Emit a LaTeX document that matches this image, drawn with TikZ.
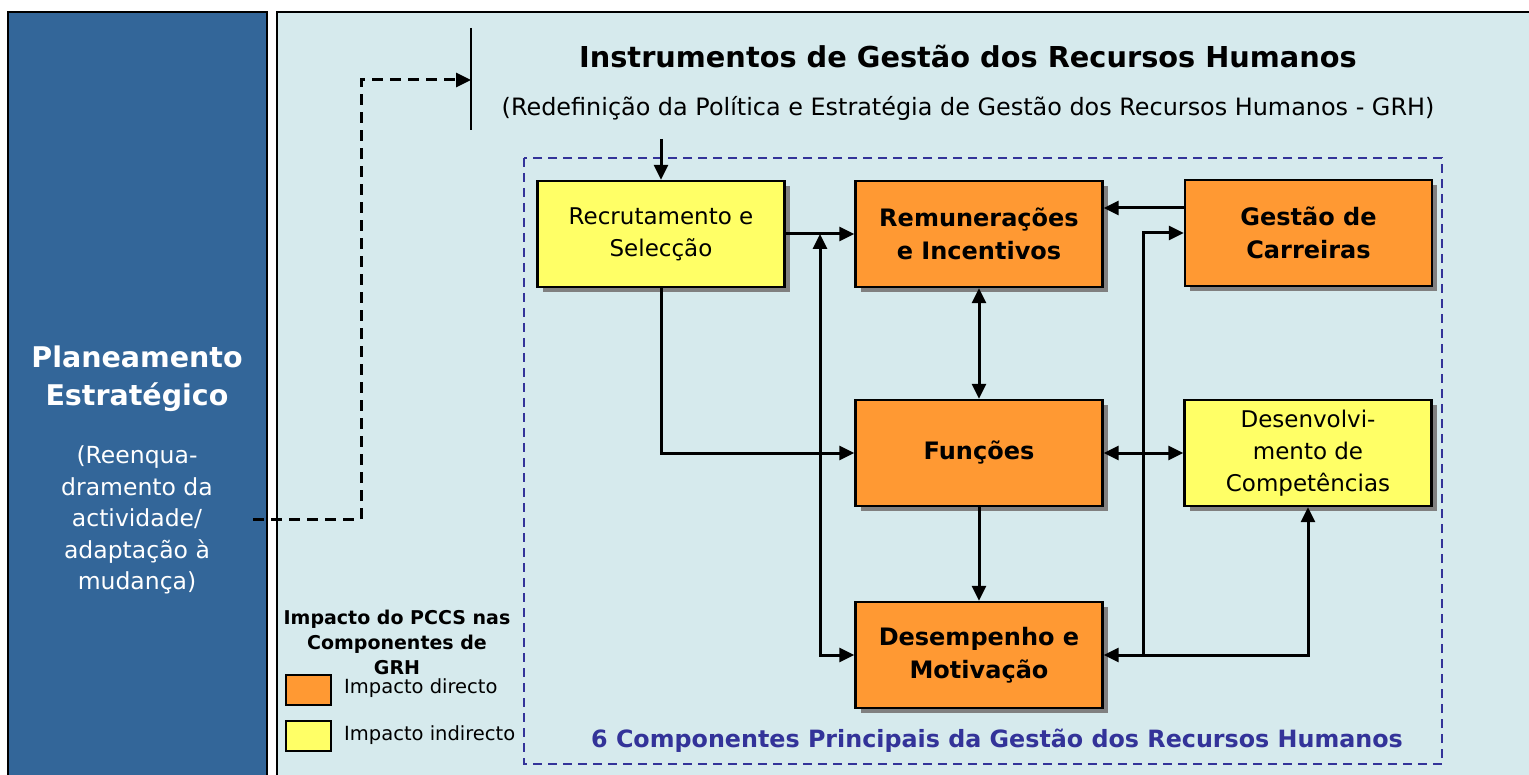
\documentclass[tikz,border=0pt]{standalone}
\usepackage{fontspec}
\setmainfont{DejaVu Sans}
\usetikzlibrary{calc}
\usetikzlibrary{shadows}
\usetikzlibrary{arrows.meta}
\definecolor{panelblue}{HTML}{336699}
\definecolor{panellight}{HTML}{D6EAED}
\definecolor{orangebox}{HTML}{FF9933}
\definecolor{yellowbox}{HTML}{FFFF66}
\definecolor{framblue}{HTML}{333399}
\definecolor{shadowgray}{HTML}{808080}

\begin{document}
\begin{tikzpicture}[x=1pt,y=-1pt]
            \tikzstyle{comp} = [draw, line width=2.4pt, minimum width=247pt, minimum height=106pt, align=center, inner sep=2pt, drop shadow={shadow xshift=5pt, shadow yshift=-5pt, fill=shadowgray, opacity=1}]
            \tikzstyle{direct} = [comp, fill=orangebox, font=\bfseries\fontsize{24}{33}\selectfont]
            \tikzstyle{indirect} = [comp, fill=yellowbox, font=\fontsize{23}{32}\selectfont]
            \tikzstyle{link} = [line width=3pt, >={Triangle[length=15pt,width=14pt]}]
            \tikzstyle{swatch} = [draw, line width=2.4pt, minimum width=45pt, minimum height=30pt]
            \useasboundingbox (0,0) rectangle (1529,775);

            \draw [fill=panelblue, line width=2.4pt] (8,12) rectangle (267,790);
            \draw [fill=panellight, line width=2.4pt] (277,12) rectangle (1540,790);
            \node (plan) [text=white, align=center, font=\bfseries\fontsize{28.5}{38}\selectfont] at (137,379) {Planeamento\\Estratégico};
            \node (planx) [text=white, align=center, font=\fontsize{23.5}{31.5}\selectfont] at (137,520) {(Reenqua-\\dramento da\\actividade/\\adaptação à\\mudança)};

            \node (title) [font=\bfseries\fontsize{28.8}{34}\selectfont] at (968,57) {Instrumentos de Gestão dos Recursos Humanos};
            \node (sub) [font=\fontsize{23.9}{28}\selectfont] at (968,108) {(Redefinição da Política e Estratégia de Gestão dos Recursos Humanos - GRH)};
            \coordinate (b1) at (471,28);
            \coordinate (b2) at (471,130);
            \coordinate (b3) at (471,80);
            \draw [line width=2.4pt] (b1) -- (b2);

            \draw [framblue, line width=1.8pt, dash pattern=on 9pt off 6pt] (524,158) rectangle (1442,764);
            \node (cap) [text=framblue, font=\bfseries\fontsize{23.8}{28}\selectfont] at (997,741) {6 Componentes Principais da Gestão dos Recursos Humanos};

            \node (rec) [indirect] at (661,234) {Recrutamento e\\Selecção};
            \node (rem) [direct] at (979,234) {Remunerações\\e Incentivos};
            \node (ges) [direct] at (1308.5,233) {Gestão de\\Carreiras};
            \node (fun) [direct] at (979,453) {Funções};
            \node (dev) [indirect] at (1308,453) {Desenvolvi-\\mento de\\Competências};
            \node (dem) [direct] at (979,655) {Desempenho e\\Motivação};

            \coordinate (s) at (253,519);
            \coordinate (t1) at ($(rec.north)+(0,-41)$);
            \coordinate (j1) at (820,234);
            \coordinate (j2) at (820,655);
            \coordinate (j3) at (1143,655);
            \draw [link, dashed, dash pattern=on 11pt off 7pt, ->] (s) -- ($(s)+(108,0)$) |- (b3);
            \draw [link, ->] (t1) -- (rec.north);
            \draw [link, ->] (rec.east) -- (rem.west);
            \draw [link, <->] (j1) -- (j2) -- (dem.west);
            \draw [link, ->] (rec.south) |- (fun.west);
            \draw [link, <->] (rem.south) -- (fun.north);
            \draw [link, ->] (fun.south) -- (dem.north);
            \draw [link, ->] ([yshift=25pt]ges.west) -- ([yshift=25pt]ges.west -| rem.east);
            \draw [link, ->] (j3) |- (ges.west);
            \draw [link, <->] (dem.east) -| (dev.south);
            \draw [link, <->] (fun.east) -- (dev.west);

            \node (head) [align=center, font=\bfseries\fontsize{19}{25}\selectfont] at (397,642) {Impacto do PCCS nas\\Componentes de\\GRH};
            \node (sw1) [swatch, fill=orangebox] at (308.5,690) {};
            \node (sw2) [swatch, fill=yellowbox] at (308.5,736) {};
            \node (l1) [anchor=west, inner sep=0pt, font=\fontsize{19.5}{23}\selectfont] at (344,688) {Impacto directo};
            \node (l2) [anchor=west, inner sep=0pt, font=\fontsize{19.5}{23}\selectfont] at (344,735) {Impacto indirecto};
        \end{tikzpicture}
\end{document}
